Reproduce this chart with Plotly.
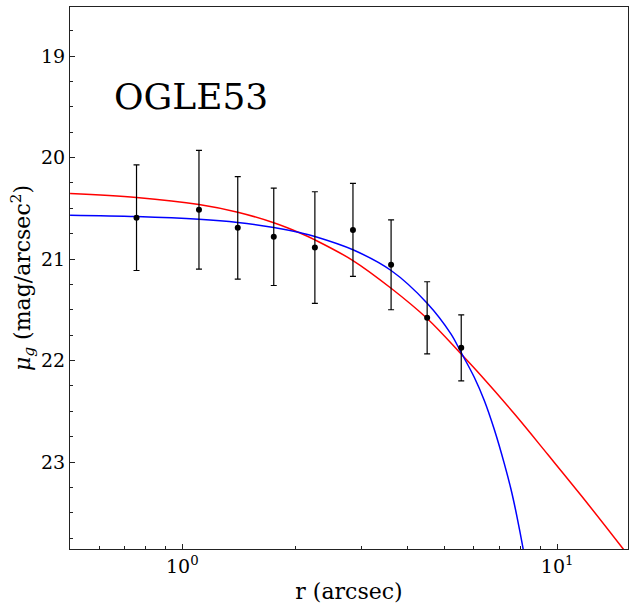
import plotly.graph_objects as go

# observed surface brightness profile
r_obs = [0.755, 1.108, 1.406, 1.754, 2.258, 2.853, 3.606, 4.500, 5.548]
mu_obs = [20.593, 20.515, 20.693, 20.781, 20.887, 20.713, 21.057, 21.579, 21.875]
mu_err = [0.52, 0.585, 0.505, 0.48, 0.55, 0.458, 0.443, 0.355, 0.325]

# red model curve
r_red = [0.502, 0.755, 1.108, 1.406, 1.754, 2.068, 2.258, 2.853, 3.606, 4.500,
         5.538, 6.263, 7.688, 9.443, 11.59, 14.99, 15.58]
mu_red = [20.355, 20.394, 20.463, 20.539, 20.643, 20.746, 20.811, 21.015, 21.288,
          21.586, 21.934, 22.148, 22.525, 22.926, 23.33, 23.855, 23.936]

# blue model curve
r_blue = [0.502, 0.755, 1.108, 1.406, 1.754, 2.068, 2.258, 2.853, 3.606, 4.500,
          5.207, 5.538, 6.010, 6.392, 6.798, 7.231, 7.534, 7.817, 8.111, 8.21]
mu_blue = [20.568, 20.581, 20.608, 20.640, 20.690, 20.742, 20.778, 20.909, 21.113,
           21.435, 21.737, 21.918, 22.165, 22.394, 22.680, 23.018, 23.271, 23.542,
           23.852, 23.97]

x_major = [1, 10]
x_major_text = ["10<sup>0</sup>", "10<sup>1</sup>"]
x_minor = [0.6, 0.7, 0.8, 0.9, 2, 3, 4, 5, 6, 7, 8, 9, 20]
y_major = [19, 20, 21, 22, 23]
y_minor = [18.75, 19.25, 19.5, 19.75, 20.25, 20.5, 20.75, 21.25, 21.5, 21.75,
           22.25, 22.5, 22.75, 23.25, 23.5, 23.75]

fig = go.Figure()
fig.add_trace(go.Scatter(x=r_red, y=mu_red, mode="lines",
                         line=dict(color="red", width=1.5, shape="spline")))
fig.add_trace(go.Scatter(x=r_blue, y=mu_blue, mode="lines",
                         line=dict(color="blue", width=1.5, shape="spline")))
fig.add_trace(go.Scatter(x=r_obs, y=mu_obs, mode="markers",
                         marker=dict(color="black", size=6),
                         error_y=dict(type="data", array=mu_err, color="black",
                                      thickness=1.2, width=3)))

fig.add_annotation(x=-0.187, y=19.40, xref="x", yref="y", text="OGLE53",
                   showarrow=False, xanchor="left", yanchor="middle",
                   font=dict(size=36, color="black"))

fig.update_layout(
    width=634, height=608,
    margin=dict(l=70, r=6, t=7, b=59),
    plot_bgcolor="white", paper_bgcolor="white",
    showlegend=False,
    font=dict(family="DejaVu Serif", size=19, color="black"),
)
fig.update_xaxes(
    type="log", range=[-0.2995, 1.189], automargin=False,
    tickmode="array", tickvals=x_major, ticktext=x_major_text,
    ticks="inside", ticklen=5, tickwidth=1, tickcolor="#222",
    minor=dict(tickmode="array", tickvals=x_minor, ticks="inside", ticklen=3,
               tickwidth=1, tickcolor="#222"),
    showgrid=False, zeroline=False,
    showline=True, linecolor="#222", linewidth=1, mirror=True,
    title=dict(text="r (arcsec)", font=dict(size=22), standoff=7),
)
fig.update_yaxes(
    range=[23.857, 18.517], automargin=False,
    tickmode="array", tickvals=y_major,
    ticks="inside", ticklen=5, tickwidth=1, tickcolor="#222",
    minor=dict(tickmode="array", tickvals=y_minor, ticks="inside", ticklen=3,
               tickwidth=1, tickcolor="#222"),
    showgrid=False, zeroline=False,
    showline=True, linecolor="#222", linewidth=1, mirror=True,
    title=dict(text="<i>μ<sub>g</sub></i> (mag/arcsec<sup>2</sup>)",
               font=dict(size=22), standoff=4),
)

# page body has a default 8px margin; drop it so the figure sits at 0,0
fig.write_html("out.html", config={"displayModeBar": False},
               post_script="document.body.style.margin='0';"
                           "document.body.style.overflow='hidden';")
